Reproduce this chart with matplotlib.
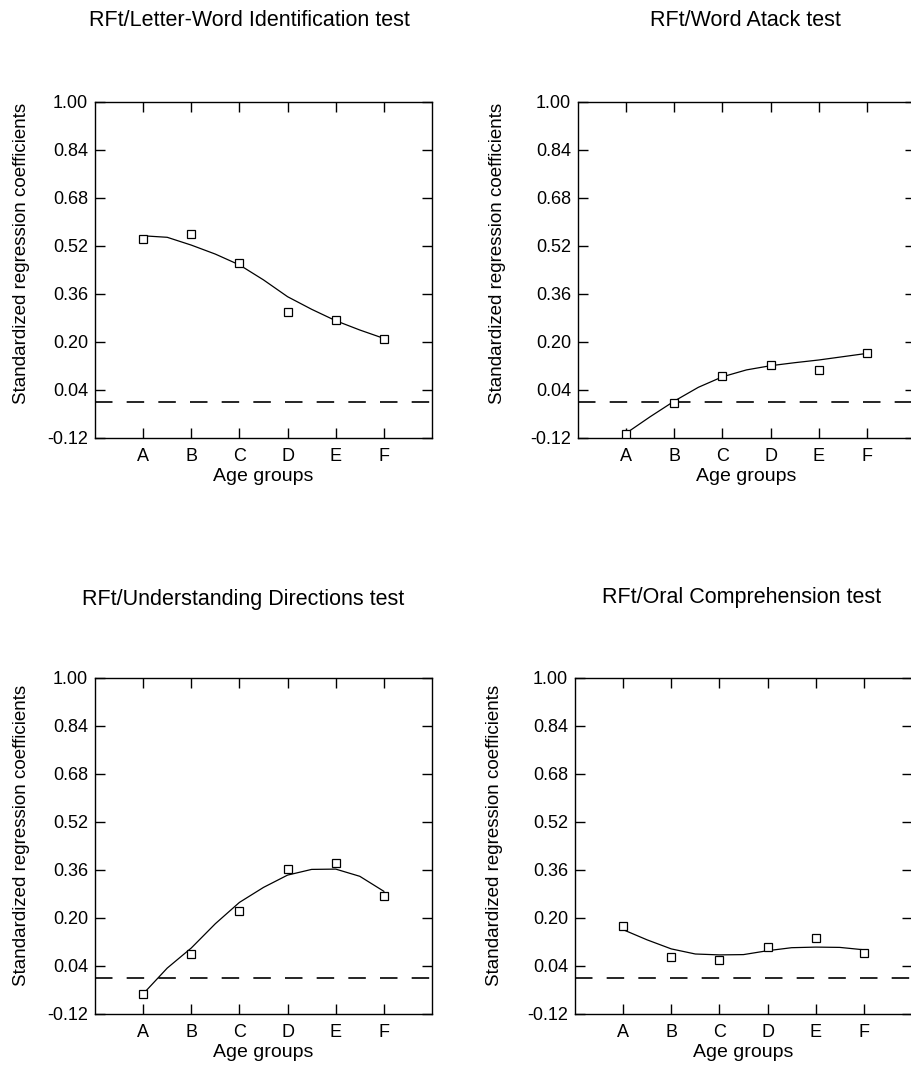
import numpy as np
import matplotlib
matplotlib.use("Agg")
import matplotlib.pyplot as plt

plt.rcParams['font.family'] = ['Liberation Sans', 'DejaVu Sans']

# ---- data ----
groups = ["A", "B", "C", "D", "E", "F"]
yticks = [-0.12, 0.04, 0.20, 0.36, 0.52, 0.68, 0.84, 1.00]
ytick_labels = ["-0.12", "0.04", "0.20", "0.36", "0.52", "0.68", "0.84", "1.00"]

titles = [
    "RFt/Letter-Word Identification test",
    "RFt/Word Atack test",
    "RFt/Understanding Directions test",
    "RFt/Oral Comprehension test",
]

# observed coefficients (square markers)
letter_word = [0.542, 0.560, 0.463, 0.299, 0.272, 0.210]
word_attack = [-0.108, -0.003, 0.088, 0.123, 0.108, 0.164]
understanding = [-0.054, 0.081, 0.225, 0.362, 0.385, 0.274]
oral = [0.172, 0.071, 0.061, 0.103, 0.133, 0.082]
series = [letter_word, word_attack, understanding, oral]

# smoothed trend line at half-group steps (A, A.5, B, ... F)
trend_x = [1.0, 1.5, 2.0, 2.5, 3.0, 3.5, 4.0, 4.5, 5.0, 5.5, 6.0]
letter_word_trend = [0.554, 0.549, 0.523, 0.493, 0.457, 0.407, 0.351, 0.309, 0.271, 0.240, 0.212]
word_attack_trend = [-0.104, -0.049, 0.003, 0.049, 0.084, 0.107, 0.121, 0.131, 0.140, 0.151, 0.162]
understanding_trend = [-0.053, 0.033, 0.100, 0.181, 0.252, 0.302, 0.343, 0.362, 0.363, 0.339, 0.289]
oral_trend = [0.161, 0.127, 0.097, 0.080, 0.077, 0.078, 0.091, 0.101, 0.103, 0.102, 0.094]
trends = [letter_word_trend, word_attack_trend, understanding_trend, oral_trend]

reference_level = 0.0

xlabel = "Age groups"
ylabel = "Standardized regression coefficients"

# ---- layout ----
W, H = 911, 1067
fig = plt.figure(figsize=(W / 100, H / 100), dpi=100)

ax_w, ax_h = 337, 336
positions = [(95, 438), (578, 438), (95, 1014), (575, 1014)]  # left, bottom in px (from top)
title_pos = [(249, 20), (745, 20), (243, 600), (742, 598)]
ylabel_x = [-0.193, -0.215, -0.193, -0.215]
ylabel_y = [0.55, 0.55, 0.53, 0.53]

x = np.arange(1, len(groups) + 1)

for i in range(4):
    left, bottom = positions[i]
    ax = fig.add_axes([left / W, (H - bottom) / H, ax_w / W, ax_h / H])
    ax.plot(trend_x, trends[i], color='black', linewidth=0.9, zorder=2,
            solid_joinstyle='round')
    ax.plot(x, series[i], linestyle='none', marker='s', markersize=5.5,
            markerfacecolor='white', markeredgecolor='black', markeredgewidth=0.9, zorder=3)
    ax.axhline(reference_level, color='black', linewidth=1.2, dashes=(10.5, 8.5), zorder=1)

    ax.set_xlim(0, 7)
    ax.set_ylim(-0.12, 1.00)
    ax.set_xticks(x)
    ax.set_xticklabels(groups)
    ax.set_yticks(yticks)
    ax.set_yticklabels(ytick_labels)
    ax.tick_params(axis='both', direction='in', length=7.5, width=1.0,
                   top=True, right=True, labelsize=13, colors='black')
    ax.tick_params(axis='y', pad=5)
    ax.tick_params(axis='x', pad=7)
    for sp in ax.spines.values():
        sp.set_linewidth(1.0)
        sp.set_color('black')
    ax.set_xlabel(xlabel, fontsize=14)
    ax.xaxis.set_label_coords(0.5, -0.09)
    ax.set_ylabel(ylabel, fontsize=13.5)
    ax.yaxis.set_label_coords(ylabel_x[i], ylabel_y[i])

    tx, ty = title_pos[i]
    fig.text(tx / W, 1 - ty / H, titles[i], ha='center', va='center', fontsize=15.5)

fig.savefig("out.png", dpi=100)
